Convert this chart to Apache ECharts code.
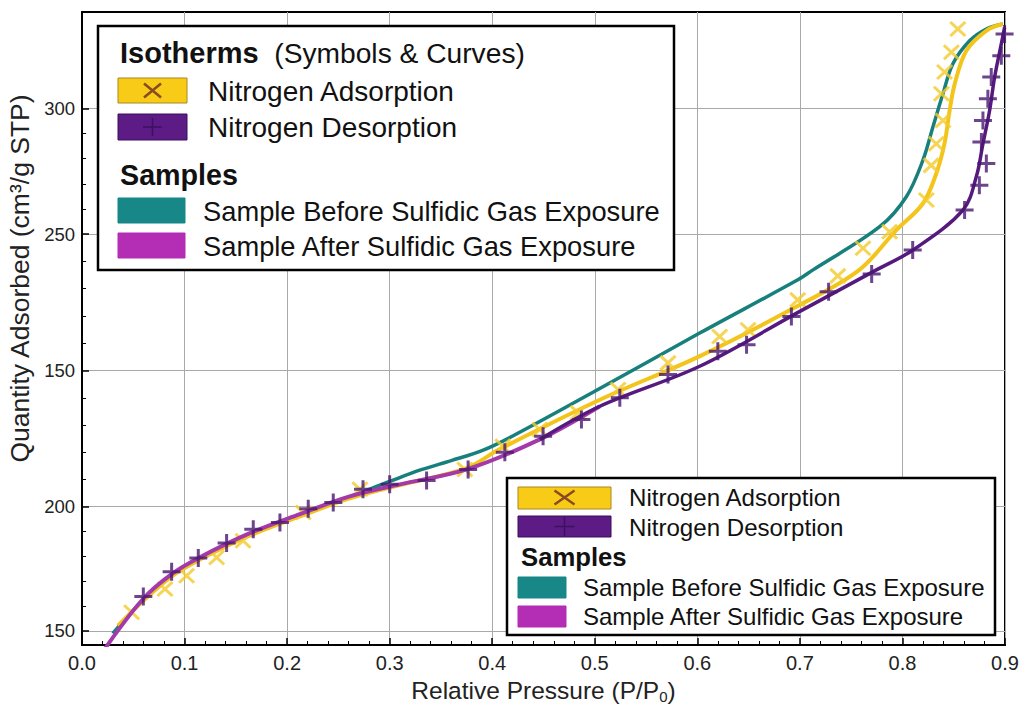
<!DOCTYPE html>
<html>
<head>
<meta charset="utf-8">
<script src="https://cdn.jsdelivr.net/npm/echarts@6.0.0/dist/echarts.min.js"></script>
<style>
html,body{margin:0;padding:0;background:#fff;}
#chart{width:1019px;height:704px;}
</style>
</head>
<body>
<div id="chart"></div>
<script>
// ---------- data ----------
const yTickValues = [150, 197.6, 249.6, 301.9, 350];
const yTickLabels = ['150', '200', '150', '250', '300'];

const adsorptionMarkers = [
  [0.0484,157.1],[0.0809,166.0],[0.102,171.1],[0.1313,178.1],[0.157,184.5],[0.2157,195.3],
  [0.271,204.2],[0.3733,211.8],[0.4103,220.7],[0.4464,227.1],[0.4837,233.5],[0.5227,242.4],
  [0.5714,252.6],[0.6218,262.7],[0.6494,265.3],[0.6979,276.7],[0.737,285.9],[0.7615,296.5],
  [0.7875,302.8],[0.8233,314.9],[0.828,328.2],[0.833,336.5],[0.8395,345.4],[0.838,355.6],
  [0.8411,363.9],[0.8477,371.5],[0.854,380.4]
];
const desorptionMarkers = [
  [0.0598,163.2],[0.0874,172.6],[0.1134,177.9],[0.141,183.6],[0.167,188.9],[0.193,191.5],
  [0.2206,196.8],[0.245,199.1],[0.274,204.2],[0.300,206.1],[0.336,207.6],[0.3765,211.8],
  [0.4123,218.4],[0.4496,224.5],[0.487,230.9],[0.5244,239.2],[0.5714,248.1],[0.620,257.0],
  [0.648,259.5],[0.6917,270.3],[0.728,279.8],[0.770,286.6],[0.810,295.8],[0.8606,311.1],
  [0.875,320.6],[0.8818,328.9],[0.877,337.1],[0.8785,345.4],[0.8833,353.7],[0.8866,362.0],
  [0.8964,370.2],[0.8996,378.5]
];
const adsorptionCurve = [
  [0.035,152],[0.0595,161.4],[0.0877,171.0],[0.115,177.3],[0.1637,186.5],[0.2125,193.8],
  [0.261,200.7],[0.31,205.8],[0.375,212.3],[0.407,219.5],[0.505,238.5],[0.602,255.1],[0.70,274.8],
  [0.758,288.2],[0.794,303.4],[0.82,313.6],[0.833,325.1],[0.841,336.5],[0.846,349.2],
  [0.851,359.4],[0.8623,372.1],[0.882,379.8],[0.8977,382.3]
];
const desorptionCurve = [
  [0.4464,223.3],[0.505,236],[0.6023,251.3],[0.70,272.3],[0.7746,288.2],[0.8103,295.8],
  [0.859,311.1],[0.872,323.8],[0.8785,336.5],[0.885,349.2],[0.8899,362],[0.8964,374.7],[0.8996,381]
];
const beforeCurve = [
  [0.03,149],[0.0595,161.8],[0.0877,171.4],[0.115,177.8],[0.1637,187.0],[0.2125,194.3],
  [0.261,201.3],[0.30,207.2],[0.33,211.6],[0.36,215.2],[0.3900,219.0],[0.42,224.6],[0.50,241.7],
  [0.6023,264.0],[0.698,284.4],[0.7128,288.2],[0.7778,304.7],[0.8038,316.2],[0.82,330.2],
  [0.8297,342.9],[0.8395,355.6],[0.8492,367.1],[0.8655,375.9],[0.8818,380.4],[0.8977,382.3]
];
const afterCurve = [
  [0.022,143],[0.0595,162.2],[0.0877,171.8],[0.115,178.2],[0.1637,187.4],[0.2125,194.7],
  [0.261,201.5],[0.31,206.1],[0.375,211.8],[0.4464,223.3],[0.505,236]
];

const seriesNames = ['Nitrogen Adsorption', 'Nitrogen Desorption',
  'Sample Before Sulfidic Gas Exposure', 'Sample After Sulfidic Gas Exposure'];
const xAxisTitle = 'Relative Pressure (P/P';
const yAxisTitle = 'Quantity Adsorbed (cm³/g STP)';

// ---------- styles ----------
const C = {
  yellow: '#f3c41a', yellowMark: '#f4cb2c', purple: '#561a7e', purpleMark: '#481670',
  teal: '#17807d', magenta: '#a43aaa'
};
const FONT = "'Liberation Sans', Arial, Helvetica, sans-serif";
const Y_MIN = 144.6, Y_MAX = 386.9;

const minorY = [];
for (let i = 0; i < yTickValues.length - 1; i++) {
  const a = yTickValues[i], b = yTickValues[i + 1];
  for (let k = 1; k < 5; k++) minorY.push(a + (b - a) * k / 5);
}

const X_SYM = 'path://M0,0L10,10M10,0L0,10';
const P_SYM = 'path://M5,0L5,10M0,5L10,5';

function legendBox(x, y, w, h) {
  return { type: 'rect', shape: { x, y, width: w, height: h },
    style: { fill: '#fff', stroke: '#000', lineWidth: 2.5 }, z: 100 };
}
function rect(x, y, w, h, fill, stroke) {
  return { type: 'rect', shape: { x, y, width: w, height: h },
    style: { fill, stroke: stroke || fill, lineWidth: 1 }, z: 101 };
}
function line(x1, y1, x2, y2, color, lw) {
  return { type: 'line', shape: { x1, y1, x2, y2 },
    style: { stroke: color, lineWidth: lw }, z: 102 };
}
function txt(x, y, s, size, bold) {
  return { type: 'text', z: 102, style: { x, y, text: s, fill: '#111',
    font: (bold ? 'bold ' : '') + size + 'px ' + FONT,
    fontSize: size, fontFamily: FONT, fontWeight: bold ? 'bold' : 'normal',
    textAlign: 'left', textVerticalAlign: 'middle', align: 'left', verticalAlign: 'middle' } };
}
function xMark(cx, cy, w, h, color, lw) {
  return [line(cx - w / 2, cy - h / 2, cx + w / 2, cy + h / 2, color, lw),
          line(cx - w / 2, cy + h / 2, cx + w / 2, cy - h / 2, color, lw)];
}
function plusMark(cx, cy, w, h, color, lw) {
  return [line(cx - w / 2, cy, cx + w / 2, cy, color, lw),
          line(cx, cy - h / 2, cx, cy + h / 2, color, lw)];
}

const graphics = [
  // upper-left legend
  legendBox(98, 26, 576, 244),
  { type: 'text', z: 102, style: { x: 120, y: 53, text: '{b|Isotherms}{n|  (Symbols & Curves)}',
      textVerticalAlign: 'middle', verticalAlign: 'middle', fill: '#111',
      rich: { b: { fontSize: 29, fontWeight: 'bold', fontFamily: FONT, fill: '#111' },
              n: { fontSize: 28.2, fontFamily: FONT, fill: '#111' } } } },
  rect(118, 78, 69, 25, '#f8cb17', '#a88a20'),
  ...xMark(152.5, 90.5, 17, 14, '#8a4a22', 2.5),
  txt(208, 91, seriesNames[0], 28),
  rect(118, 114, 69, 26, '#5c1b85', '#3a0f5a'),
  ...plusMark(152.5, 127, 19, 18, '#3d1060', 1.5),
  txt(208, 127.5, seriesNames[1], 28),
  txt(120, 175, 'Samples', 28.7, true),
  rect(118, 198, 67, 25, '#178787'),
  txt(203, 211, seriesNames[2], 27.3),
  rect(118, 233, 67, 25, '#b42db5'),
  txt(203, 246, seriesNames[3], 27.3),
  // lower-right legend
  legendBox(507, 478, 488, 157),
  rect(518, 487, 93, 22, '#f8cb17', '#a88a20'),
  ...xMark(564.5, 497.5, 20, 14, '#8a4a22', 2.5),
  txt(629, 497.5, seriesNames[0], 24.1),
  rect(518, 516, 93, 21, '#5c1b85', '#3a0f5a'),
  ...plusMark(564.5, 526.5, 20, 19, '#3d1060', 1.5),
  txt(629, 527, seriesNames[1], 24.1),
  txt(521, 557, 'Samples', 25.7, true),
  rect(518, 577, 48, 21, '#178787'),
  txt(583, 587.5, seriesNames[2], 24),
  rect(518, 606, 48, 21, '#b42db5'),
  txt(583, 616.5, seriesNames[3], 24)
];

const chart = echarts.init(document.getElementById('chart'), null, { renderer: 'svg' });
chart.setOption({
  animation: false,
  backgroundColor: '#fff',
  textStyle: { fontFamily: FONT },
  grid: { left: 82, right: 14, top: 12, bottom: 59, show: true, borderColor: '#000', borderWidth: 2,
          containLabel: false, outerBoundsMode: 'none' },
  xAxis: {
    type: 'value', min: 0, max: 0.9, interval: 0.1,
    axisLine: { show: true, lineStyle: { color: '#000', width: 2 } },
    axisTick: { show: true, inside: true, length: 7, lineStyle: { color: '#000', width: 1.5 } },
    minorTick: { show: true, splitNumber: 5, length: 4, lineStyle: { color: '#000', width: 1 } },
    axisLabel: { formatter: v => v.toFixed(1), fontSize: 20, color: '#222', margin: 8, fontFamily: FONT },
    splitLine: { show: true, lineStyle: { color: '#a9a9a9', width: 1 } },
    name: '{a|' + xAxisTitle + '}{s|0}{a|)}', nameLocation: 'middle', nameGap: 28,
    nameTextStyle: { rich: {
      a: { fontSize: 24.5, fontFamily: FONT, color: '#222', lineHeight: 28 },
      s: { fontSize: 15, fontFamily: FONT, color: '#222', verticalAlign: 'bottom', lineHeight: 14 } } }
  },
  yAxis: [{
    type: 'value', min: Y_MIN, max: Y_MAX,
    axisLine: { show: true, lineStyle: { color: '#000', width: 2 } },
    axisTick: { show: true, inside: true, length: 7, customValues: yTickValues, lineStyle: { color: '#000', width: 1.5 } },
    axisLabel: { customValues: yTickValues, fontSize: 18.5, color: '#222', margin: 7, fontFamily: FONT,
      formatter: v => {
        let best = 0;
        yTickValues.forEach((t, i) => { if (Math.abs(t - v) < Math.abs(yTickValues[best] - v)) best = i; });
        return yTickLabels[best];
      } },
    splitLine: { show: true, lineStyle: { color: '#a9a9a9', width: 1 } },
    name: yAxisTitle, nameLocation: 'middle', nameGap: 46,
    nameTextStyle: { fontSize: 26.5, color: '#222', fontFamily: FONT, padding: [0, 0, 0, 100] }
  }, {
    type: 'value', min: Y_MIN, max: Y_MAX, position: 'left', offset: 0,
    axisLine: { show: false },
    axisTick: { show: true, inside: true, length: 4, customValues: minorY, lineStyle: { color: '#000', width: 1 } },
    axisLabel: { show: false },
    splitLine: { show: false }
  }],
  series: [
    { name: seriesNames[2], type: 'line', data: beforeCurve, smooth: 0.35, showSymbol: false, symbol: 'none',
      lineStyle: { color: C.teal, width: 3.5 }, z: 2 },
    { name: seriesNames[0] + ' curve', type: 'line', data: adsorptionCurve, smooth: 0.35, symbol: 'none',
      lineStyle: { color: C.yellow, width: 4 }, z: 3 },
    { name: seriesNames[0], type: 'scatter', data: adsorptionMarkers, symbol: X_SYM, symbolSize: [15, 14],
      itemStyle: { color: 'rgba(0,0,0,0)', borderColor: C.yellowMark, borderWidth: 3 }, z: 4 },
    { name: seriesNames[3], type: 'line', data: afterCurve, smooth: 0.35, symbol: 'none',
      lineStyle: { color: C.magenta, width: 4 }, z: 5 },
    { name: seriesNames[1] + ' curve', type: 'line', data: desorptionCurve, smooth: 0.35, symbol: 'none',
      lineStyle: { color: C.purple, width: 3.5 }, z: 6 },
    { name: seriesNames[1], type: 'scatter', data: desorptionMarkers, symbol: P_SYM, symbolSize: 18,
      itemStyle: { color: 'rgba(0,0,0,0)', borderColor: C.purpleMark, borderWidth: 3 }, z: 7 }
  ],
  graphic: graphics
});
</script>
</body>
</html>
